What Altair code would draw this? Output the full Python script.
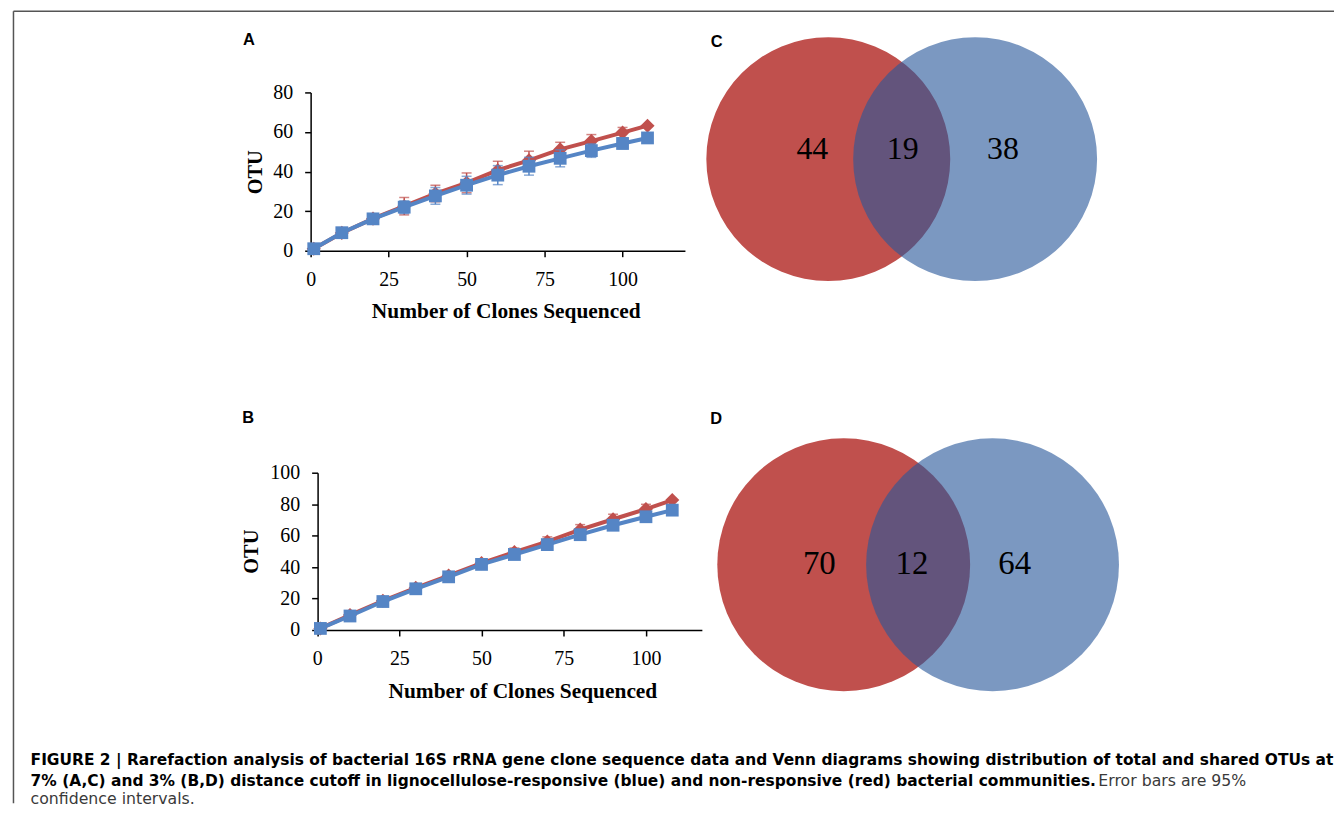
import altair as alt
import pandas as pd

# ---------------- data ----------------
clones = [1, 10, 20, 30, 40, 50, 60, 70, 80, 90, 100, 108]
x_ticks = [0, 25, 50, 75, 100]

# Panel A (7% cutoff)
a_red = [1, 9.0, 16.2, 22.5, 28.9, 34.3, 40.7, 45.7, 51.2, 55.4, 59.7, 63.2]
a_red_ci = [0, 0.8, 1.5, 4.4, 4.2, 5.0, 4.5, 4.6, 3.6, 3.3, 2.6, 0]
a_blue = [1, 9.1, 16.1, 22.0, 27.7, 33.1, 38.2, 42.7, 46.7, 50.6, 54.2, 57.0]
a_blue_ci = [0, 1.0, 2.0, 3.2, 4.2, 4.5, 4.8, 4.5, 4.3, 3.4, 2.7, 0]
a_y_ticks = [0, 20, 40, 60, 80]

# Panel B (3% cutoff)
b_red = [1, 9.5, 18.6, 26.8, 34.6, 42.5, 49.5, 56.2, 63.8, 70.4, 76.9, 82.6]
b_red_ci = [0, 0.6, 1.2, 1.6, 2.0, 2.2, 2.6, 3.0, 3.2, 3.2, 3.0, 0]
b_blue = [1, 8.9, 18.1, 26.2, 33.8, 41.7, 48.0, 54.3, 60.6, 66.6, 72.0, 76.2]
b_blue_ci = [0, 0.5, 1.0, 1.4, 1.6, 1.8, 2.2, 2.6, 2.8, 2.8, 2.4, 0]
b_y_ticks = [0, 20, 40, 60, 80, 100]

# Venn counts: [non-responsive only, shared, responsive only]
venn_c = [44, 19, 38]
venn_d = [70, 12, 64]

caption_bold_1 = ("FIGURE 2 | Rarefaction analysis of bacterial 16S rRNA gene clone sequence data "
                  "and Venn diagrams showing distribution of total and shared OTUs at")
caption_bold_2 = ("7% (A,C) and 3% (B,D) distance cutoff in lignocellulose-responsive (blue) "
                  "and non-responsive (red) bacterial communities.")
caption_norm_2 = "Error bars are 95%"
caption_norm_3 = "confidence intervals."

# ---------------- styles ----------------
RED = "#C0504D"
BLUE = "#5585C5"
VENN_BLUE = "#28589A"
SERIF = "Liberation Serif"
SANS = "Liberation Sans"
CAP_FONT = "DejaVu Sans"


def one(label):
    return pd.DataFrame({"t": [label]})


def curve_panel(red, red_ci, blue, blue_ci, x_dom, x_range, y_dom, y_ticks,
                y_axis_offset, ytitle_x, ytitle_y, xtitle_x, xtitle_y):
    rows = []
    for name, vals, cis in (("red", red, red_ci), ("blue", blue, blue_ci)):
        for c, v, e in zip(clones, vals, cis):
            rows.append({"series": name, "clones": c, "otu": v, "lo": v - e, "hi": v + e, "ci": e})
    df = pd.DataFrame(rows)

    xscale = alt.Scale(domain=x_dom, range=x_range, nice=False, zero=True)
    yscale = alt.Scale(domain=y_dom, nice=False, zero=True)
    xaxis = alt.Axis(values=x_ticks, title="Number of Clones Sequenced", labelFlush=False,
                     labelOverlap=False, tickSize=6, labelPadding=13,
                     titleX=xtitle_x, titleY=xtitle_y, titleAlign="center",
                     titleBaseline="alphabetic", titleFontSize=21.5)
    yaxis = alt.Axis(values=y_ticks, title="OTU", labelFlush=False, labelOverlap=False,
                     tickSize=6, labelPadding=12, offset=y_axis_offset,
                     titleAngle=270, titleX=ytitle_x, titleY=ytitle_y, titleAlign="center",
                     titleBaseline="alphabetic", titleFontSize=20.5)

    def X():
        return alt.X("clones:Q", scale=xscale, axis=xaxis)

    def Y(f):
        return alt.Y(f + ":Q", scale=yscale, axis=yaxis)

    layers = []
    for name, color, shape, size in (("red", RED, "diamond", 200), ("blue", BLUE, "square", 165)):
        base = alt.Chart(df).transform_filter(alt.datum.series == name)
        eb = base.transform_filter(alt.datum.ci > 0)
        layers.append(eb.mark_rule(color=color, strokeWidth=1.5).encode(
            x=X(), y=Y("lo"), y2="hi:Q"))
        layers.append(eb.mark_tick(color=color, orient="horizontal", size=10, thickness=1.5).encode(
            x=X(), y=Y("hi")))
        layers.append(eb.mark_tick(color=color, orient="horizontal", size=10, thickness=1.5).encode(
            x=X(), y=Y("lo")))
        layers.append(base.mark_line(color=color, strokeWidth=4).encode(x=X(), y=Y("otu")))
        layers.append(base.mark_point(shape=shape, filled=True, size=size, opacity=1,
                                      color=color).encode(x=X(), y=Y("otu")))
    return layers


def panel_label(letter, x, y):
    return alt.Chart(one(letter)).mark_text(
        font=SANS, fontWeight="bold", fontSize=16.5, align="center", baseline="alphabetic",
        color="black").encode(x=alt.value(x), y=alt.value(y), text="t:N")


# ---------------- panel A ----------------
a_layers = curve_panel(a_red, a_red_ci, a_blue, a_blue_ci, [0, 120], [0, 376],
                       [0, 80], a_y_ticks, 0, -49, 79.7, 196, 67)
border_top = alt.Chart(one("")).mark_rule(color="#555555", strokeWidth=1.5).encode(
    x=alt.value(-298.5), x2=alt.value(1028), y=alt.value(-81.5))
border_left = alt.Chart(one("")).mark_rule(color="#555555", strokeWidth=1.5).encode(
    x=alt.value(-298.5), y=alt.value(-81.5), y2=alt.value(714))
panel_a = alt.layer(*a_layers, panel_label("A", -62, -47.5), border_top, border_left).properties(
    width=376, height=159)

# ---------------- panel B ----------------
b_layers = curve_panel(b_red, b_red_ci, b_blue, b_blue_ci, [0, 117], [6.5, 393],
                       [0, 100], b_y_ticks, -7, -60, 78.8, 212.7, 67.7)


def caption(text, x, y, bold):
    return alt.Chart(one(text)).mark_text(
        font=CAP_FONT, fontWeight="bold" if bold else "normal",
        fontSize=15.5 if bold else 15.8,
        align="left", baseline="alphabetic",
        color="black" if bold else "#3a3a3a").encode(
        x=alt.value(x), y=alt.value(y), text="t:N")


panel_b = alt.layer(
    *b_layers, panel_label("B", -62.7, -50),
    caption(caption_bold_1, -281.3, 293.5, True),
    caption(caption_bold_2, -281.3, 315, True),
    caption(caption_norm_2, 791.3, 315, False),
    caption(caption_norm_3, -281.3, 332.5, False),
).properties(width=393, height=158)


# ---------------- Venn panels ----------------
def venn_panel(counts, width, height, red_c, blue_c, radius, label_xs, label_y, font_size,
               letter, lx, ly):
    circles = pd.DataFrame({"set": ["non-responsive", "responsive"],
                            "cx": [red_c[0], blue_c[0]], "cy": [red_c[1], blue_c[1]]})
    labels = pd.DataFrame({"count": counts, "lx": label_xs, "ly": [label_y] * 3})
    xs = alt.Scale(domain=[0, width], nice=False, zero=False)
    ys = alt.Scale(domain=[0, height], nice=False, zero=False, reverse=True)
    size = (2 * radius) ** 2
    red = alt.Chart(circles).transform_filter(alt.datum.set == "non-responsive").mark_point(
        shape="circle", filled=True, opacity=1, color=RED, strokeWidth=0).encode(
        x=alt.X("cx:Q", scale=xs, axis=None), y=alt.Y("cy:Q", scale=ys, axis=None),
        size=alt.value(size))
    blue = alt.Chart(circles).transform_filter(alt.datum.set == "responsive").mark_point(
        shape="circle", filled=True, opacity=0.615, color=VENN_BLUE, strokeWidth=0).encode(
        x=alt.X("cx:Q", scale=xs, axis=None), y=alt.Y("cy:Q", scale=ys, axis=None),
        size=alt.value(size))
    text = alt.Chart(labels).mark_text(font=SERIF, fontSize=font_size, color="black",
                                       align="center", baseline="alphabetic").encode(
        x=alt.X("lx:Q", scale=xs, axis=None), y=alt.Y("ly:Q", scale=ys, axis=None),
        text="count:N")
    return alt.layer(red, blue, text, panel_label(letter, lx, ly)).properties(
        width=width, height=height)


panel_c = venn_panel(venn_c, 400, 159, (127, 67), (274.5, 67), 122.5,
                     [111, 201.7, 302.5], 66.7, 32, "C", 15, -46)
panel_d = venn_panel(venn_d, 400, 158, (142.5, 92.5), (292, 92.5), 127,
                     [118, 211, 314.3], 102, 33, "D", 14.3, -49)

chart = alt.concat(panel_a, panel_c, panel_b, panel_d, columns=2, bounds="flush",
                   spacing={"row": 223, "column": 0}).properties(
    padding={"left": 4, "top": 0, "right": 0, "bottom": 0},
    background="white",
).configure_view(stroke=None).configure_axis(
    domainColor="black", domainWidth=1.5, tickColor="black", tickWidth=1.5,
    labelFont=SERIF, labelFontSize=20, labelColor="black", grid=False,
    titleFont=SERIF, titleFontWeight="bold", titleColor="black",
)

chart.save("out.html", embed_options={"renderer": "svg", "actions": False})
